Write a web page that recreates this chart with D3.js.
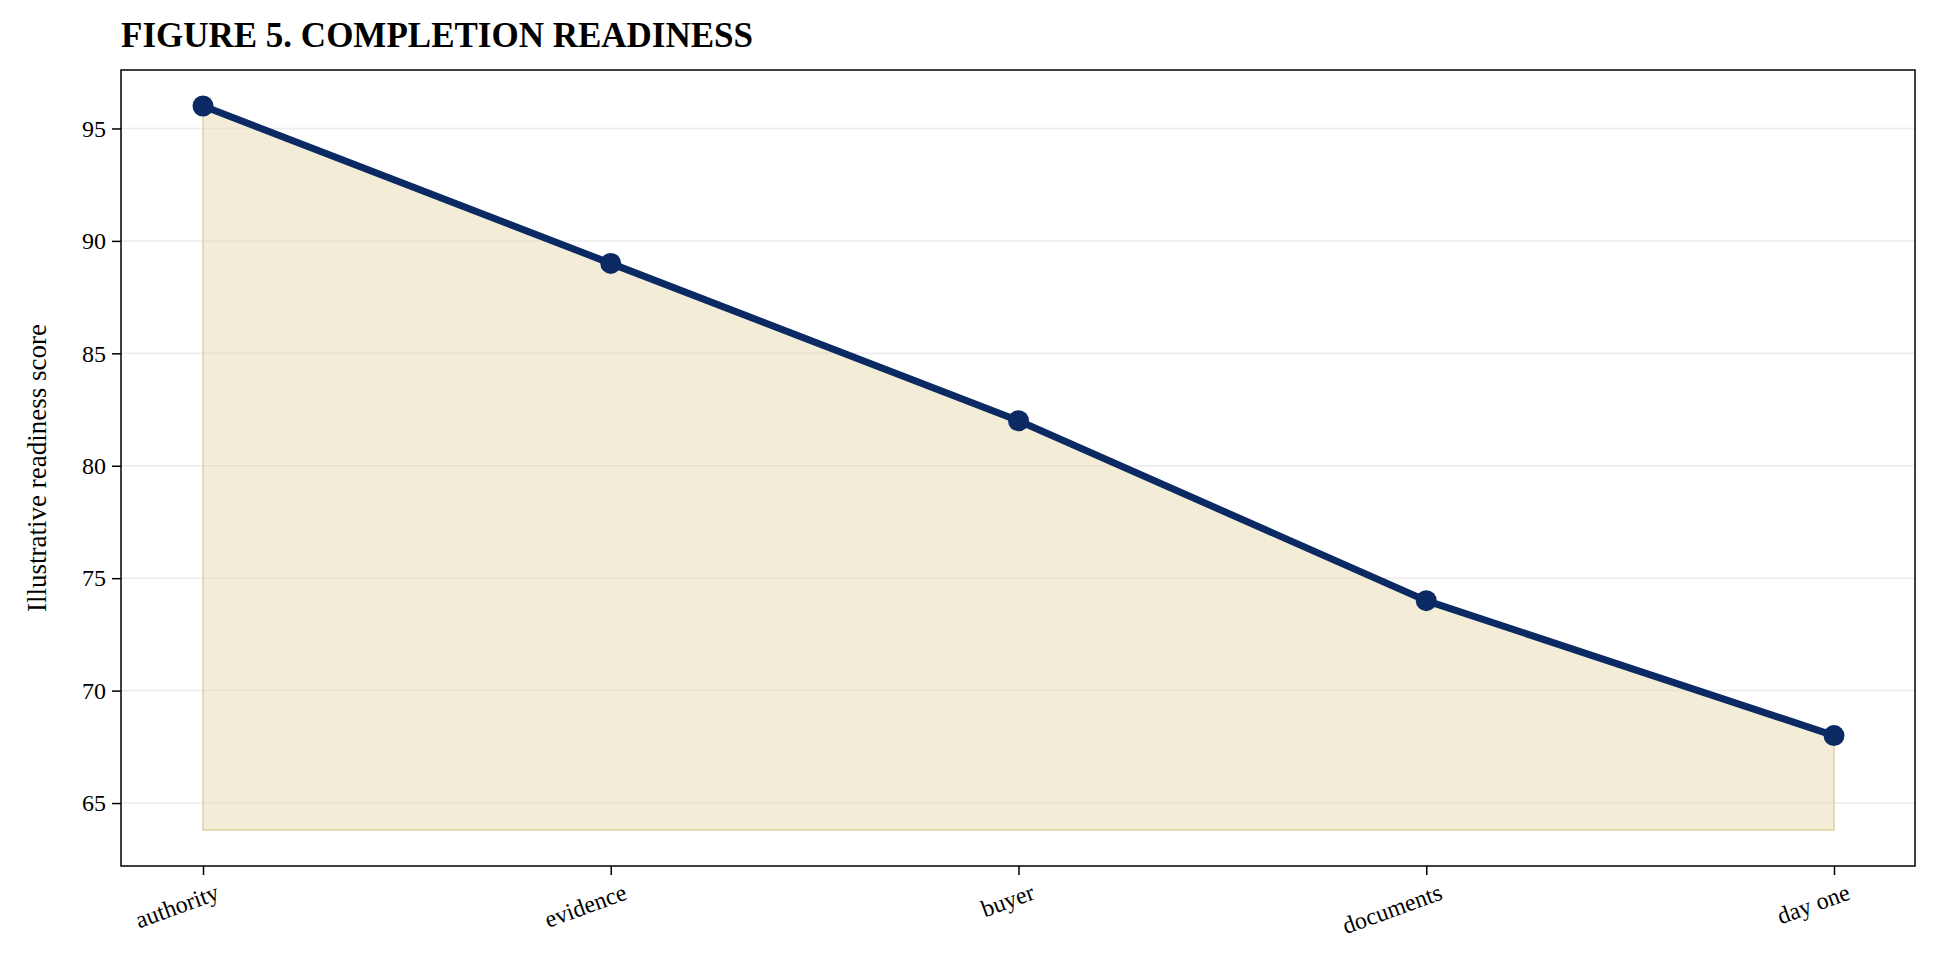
<!DOCTYPE html>
<html>
<head>
<meta charset="utf-8">
<script src="https://cdn.jsdelivr.net/npm/d3@7"></script>
<style>
body { margin: 0; background: #fff; }
text { font-family: "Liberation Serif", "Times New Roman", serif; }
</style>
</head>
<body>
<script>
var categories = ["authority", "evidence", "buyer", "documents", "day one"];
var scores = [96, 89, 82, 74, 68];
var yTicks = [65, 70, 75, 80, 85, 90, 95];
var fillBase = 63.8;

var w = 1939, h = 979;
var m = {left: 121, right: 24, top: 70, bottom: 113};

var svg = d3.select("body").append("svg").attr("width", w).attr("height", h);

var x = d3.scalePoint().domain(categories).range([203, 1834]);
var y = d3.scaleLinear().domain([62.2, 97.6]).range([h - m.bottom, m.top]);

// grid
svg.selectAll("line.grid").data(yTicks).enter().append("line")
    .attr("x1", m.left).attr("x2", w - m.right)
    .attr("y1", function(d) { return y(d); }).attr("y2", function(d) { return y(d); })
    .attr("stroke", "#ebebeb").attr("stroke-width", 1.5);

// area
var area = d3.area()
    .x(function(d, i) { return x(categories[i]); })
    .y0(y(fillBase))
    .y1(function(d) { return y(d); });
svg.append("path").datum(scores).attr("d", area)
    .attr("fill", "#e8d9b0").attr("fill-opacity", 0.5)
    .attr("stroke", "#e0cfa0").attr("stroke-width", 1.5);

var line = d3.line()
    .x(function(d, i) { return x(categories[i]); })
    .y(function(d) { return y(d); });
svg.append("path").datum(scores).attr("d", line)
    .attr("fill", "none").attr("stroke", "#0b2a63").attr("stroke-width", 7);

svg.selectAll("circle").data(scores).enter().append("circle")
    .attr("cx", function(d, i) { return x(categories[i]); })
    .attr("cy", function(d) { return y(d); })
    .attr("r", 10.5).attr("fill", "#0b2a63");

// frame
svg.append("rect").attr("x", m.left).attr("y", m.top)
    .attr("width", w - m.left - m.right).attr("height", h - m.top - m.bottom)
    .attr("fill", "none").attr("stroke", "#000").attr("stroke-width", 1.5);

var xAxis = svg.append("g").attr("transform", "translate(0," + (h - m.bottom) + ")")
    .call(d3.axisBottom(x).tickSize(9).tickPadding(6));
xAxis.select(".domain").remove();
xAxis.selectAll("text").attr("font-size", 24)
    .attr("text-anchor", "end").attr("dx", "0.2em").attr("dy", "0.9em")
    .attr("transform", "rotate(-20)");

var yAxis = svg.append("g").attr("transform", "translate(" + m.left + ",0)")
    .call(d3.axisLeft(y).tickValues(yTicks).tickSize(9).tickPadding(6));
yAxis.select(".domain").remove();
yAxis.selectAll("text").attr("font-size", 24);
svg.selectAll(".tick line").attr("stroke-width", 1.5);

svg.append("text").attr("transform", "translate(46," + ((m.top + h - m.bottom) / 2) + ") rotate(-90)")
    .attr("text-anchor", "middle").attr("font-size", 27).text("Illustrative readiness score");

svg.append("text").attr("x", m.left).attr("y", 47)
    .attr("font-size", 35).attr("font-weight", "bold").text("FIGURE 5. COMPLETION READINESS");
</script>
</body>
</html>
